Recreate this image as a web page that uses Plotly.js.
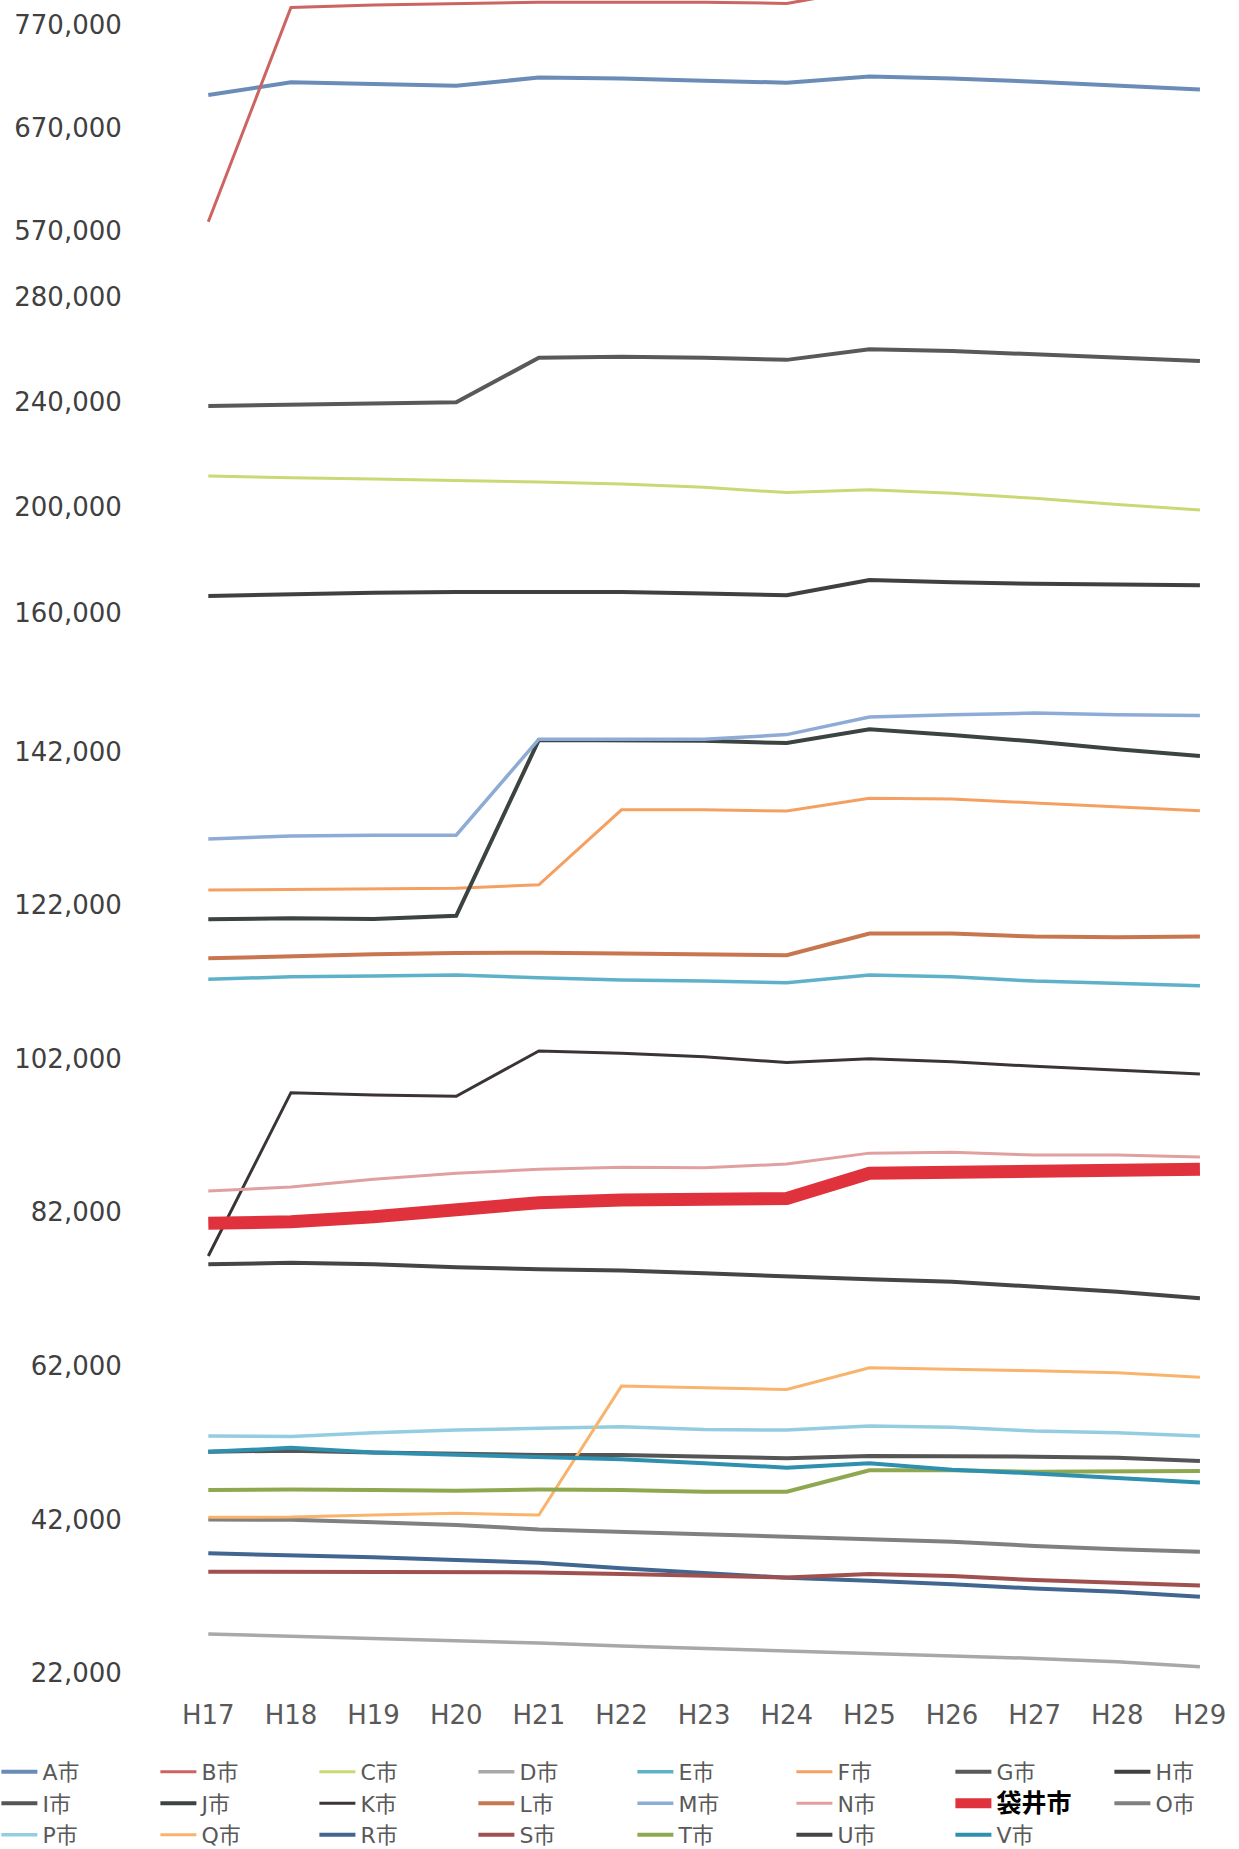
<!DOCTYPE html>
<html>
<head>
<meta charset="utf-8">
<script src="https://cdn.plot.ly/plotly-3.0.1.min.js"></script>
<style>html,body{margin:0;padding:0;background:#fff;overflow:hidden;width:1239px;height:1849px;}#chart{width:1320px;height:1849px;}</style>
</head>
<body>
<div id="chart"></div>
<script>
const years = ['H17','H18','H19','H20','H21','H22','H23','H24','H25','H26','H27','H28','H29'];

// top segment
const cityA = [702000,714400,712700,711000,719000,718000,716000,714000,720000,718000,715000,711500,707500];
const cityB = [579000,787000,789400,791000,792000,792000,792000,791000,805000,806000,806000,805000,804000];
// middle segment
const cityC = [211900,211200,210800,210300,209600,208900,207600,205600,206700,205300,203400,201100,199000];
const cityG = [238500,238900,239200,239900,256800,257200,256800,256000,260000,259400,258100,257000,255600];
const cityH = [166300,167100,167600,167800,167800,167800,167300,166600,172400,171500,171000,170800,170400];
// bottom segment
const cityD = [27070,26800,26500,26200,25900,25530,25200,24870,24480,24260,23900,23470,22800];
const cityE = [112330,112670,112750,112900,112550,112240,112100,111900,112900,112670,112100,111800,111500];
const cityF = [123960,124050,124100,124200,124650,134400,134400,134250,135900,135800,135300,134800,134300];
const cityI = [50820,50950,50700,50480,50390,50400,50170,49960,50260,50260,50170,50040,49600];
const cityJ = [120150,120300,120200,120600,143500,143500,143400,143100,144900,144150,143300,142300,141400];
const cityK = [76300,97570,97270,97100,103000,102700,102250,101500,102000,101600,101000,100500,100000];
const cityL = [115070,115400,115600,115760,115800,115700,115600,115460,118300,118300,117900,117800,117900];
const cityM = [130600,131000,131100,131100,143600,143600,143600,144200,146500,146800,147000,146800,146700];
const cityN = [84770,85300,86300,87070,87600,87850,87800,88280,89700,89800,89450,89450,89200];
const fukuroi = [80560,80770,81420,82500,83240,83600,83700,83800,87070,87200,87280,87400,87600];
const cityO = [42000,41950,41630,41270,40700,40400,39970,39670,39490,39100,38540,38100,37800];
const cityP = [52860,52800,53300,53640,53860,54070,53700,53640,54160,54000,53500,53300,52860];
const cityQ = [42270,42300,42570,42800,42570,59360,59140,58930,61760,61580,61360,61100,60500];
const cityR = [37590,37370,37060,36700,36360,35630,34980,34400,34000,33570,33000,32570,31920];
const cityS = [35190,35190,35140,35100,35100,34900,34660,34450,34900,34640,34100,33700,33400];
const cityT = [45830,45900,45830,45740,45900,45830,45600,45600,48400,48400,48200,48200,48300];
const cityU = [75220,75430,75220,74830,74570,74400,74050,73600,73270,72950,72300,71650,70800];
const cityV = [50800,51320,50700,50400,50170,49830,49300,48740,49300,48460,47990,47340,46800];

const ticksTop = [570000,670000,770000];
const ticksMid = [160000,200000,240000,280000];
const ticksBot = [22000,42000,62000,82000,102000,122000,142000];

const seriesDefs = [
  {name:'A市', y:cityA, axis:'y3', color:'#6a8cb6', w:4},
  {name:'B市', y:cityB, axis:'y3', color:'#cc6461', w:3},
  {name:'C市', y:cityC, axis:'y2', color:'#cbd873', w:3},
  {name:'D市', y:cityD, axis:'y',  color:'#a8a8a8', w:3.5},
  {name:'E市', y:cityE, axis:'y',  color:'#5fb1c9', w:3.5},
  {name:'F市', y:cityF, axis:'y',  color:'#f5a063', w:3},
  {name:'G市', y:cityG, axis:'y2', color:'#595959', w:4},
  {name:'H市', y:cityH, axis:'y2', color:'#404040', w:4},
  {name:'I市', y:cityI, axis:'y',  color:'#555555', w:4},
  {name:'J市', y:cityJ, axis:'y',  color:'#3b4440', w:4},
  {name:'K市', y:cityK, axis:'y',  color:'#3a3434', w:3},
  {name:'L市', y:cityL, axis:'y',  color:'#c8764f', w:4},
  {name:'M市', y:cityM, axis:'y',  color:'#8eabd6', w:3.5},
  {name:'N市', y:cityN, axis:'y',  color:'#e0a0a0', w:3},
  {name:'<span style="color:#000000;font-size:25px"><b>袋井市</b></span>', y:fukuroi, axis:'y', color:'#e0323c', w:13},
  {name:'O市', y:cityO, axis:'y',  color:'#808080', w:4},
  {name:'P市', y:cityP, axis:'y',  color:'#95cde0', w:3.5},
  {name:'Q市', y:cityQ, axis:'y',  color:'#f8b46c', w:3},
  {name:'R市', y:cityR, axis:'y',  color:'#41668f', w:4},
  {name:'S市', y:cityS, axis:'y',  color:'#a0504f', w:4},
  {name:'T市', y:cityT, axis:'y',  color:'#8fa850', w:4},
  {name:'U市', y:cityU, axis:'y',  color:'#454545', w:4},
  {name:'V市', y:cityV, axis:'y',  color:'#2f8fae', w:4}
];

const traces = seriesDefs.map(s => ({
  type:'scatter', mode:'lines', name:s.name, x:years, y:s.y, yaxis:s.axis, xaxis:'x',
  line:{color:s.color, width:s.w}, hoverinfo:'skip'
}));

const tickFontY = {family:'DejaVu Sans, Noto Sans', size:26, color:'#404040'};
function yAx(domain, range, vals){
  return {domain:domain, range:range, tickmode:'array', tickvals:vals, tickformat:',d',
    showgrid:false, zeroline:false, showline:false, ticks:'outside', ticklen:72,
    tickcolor:'rgba(0,0,0,0)', tickfont:tickFontY, anchor:'x', fixedrange:true, automargin:false};
}

const layout = {
  width:1320, height:1849,
  margin:{l:200, r:30, t:0, b:159, pad:0, autoexpand:false},
  paper_bgcolor:'#ffffff', plot_bgcolor:'#ffffff',
  showlegend:true,
  xaxis:{type:'category', range:[-0.1005,13.09], showgrid:false, zeroline:false, showline:false,
    ticks:'outside', ticklen:2, tickcolor:'rgba(0,0,0,0)', anchor:'y', automargin:false,
    tickfont:{family:'DejaVu Sans, Noto Sans', size:26, color:'#595959'}, fixedrange:true},
  yaxis: yAx([0,0.61538],[19786,155218],ticksBot),
  yaxis2: yAx([0.61538,0.84497],[145810,293170],ticksMid),
  yaxis3: yAx([0.85503,1],[556400,794300],ticksTop),
  legend:{orientation:'h', x:-0.1868, xanchor:'left', y:-0.036, yanchor:'top',
    font:{family:'DejaVu Sans, Noto Sans CJK JP', size:22, color:'#595959'},
    entrywidth:108, entrywidthmode:'pixels', itemwidth:36, tracegroupgap:0,
    bgcolor:'rgba(0,0,0,0)', traceorder:'normal'}
};

Plotly.newPlot('chart', traces, layout, {staticPlot:true, displayModeBar:false});
</script>
</body>
</html>
